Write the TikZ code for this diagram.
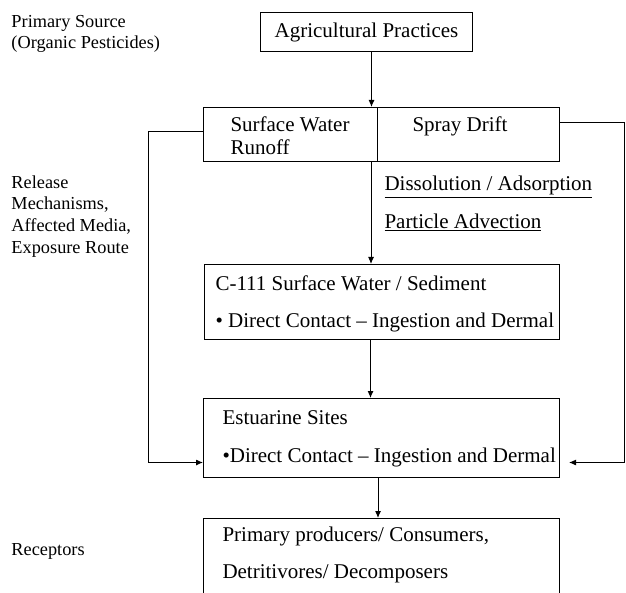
\documentclass[tikz,border=0pt]{standalone}
\usepackage{fontspec}
\setmainfont{Liberation Serif}
\usetikzlibrary{positioning, arrows.meta, calc}

\tikzset{
    box/.style={draw, inner sep=0pt, anchor=north west},
    txt/.style={inner sep=0pt, anchor=base west, align=left},
    side/.style={inner sep=0pt, anchor=base west, align=left, font=\fontsize{18.3}{21.8}\selectfont},
    arr/.style={-{Latex[length=7pt,width=6pt]}},
}

\begin{document}
\begin{tikzpicture}[x=1pt, y=-1pt, line width=1pt, font=\fontsize{21}{23}\selectfont]
    \useasboundingbox (0,0) rectangle (626,593);
    \clip (0,0) rectangle (626,593);

    % left column (anchored at the last baseline)
    \node[side] (src) at (11,49) {Primary Source\\(Organic Pesticides)};
    \node[side] (rel) at (11,253.5) {Release\\Mechanisms,\\Affected Media,\\Exposure Route};
    \node[side] (rec) at (11,555) {Receptors};

    % boxes
    \node[box, minimum width=212, minimum height=39] (agri) at (260,12) {Agricultural Practices};
    \node[box, minimum width=174, minimum height=54] (runoff) at (203,107) {};
    \node[box, minimum width=182, minimum height=54] (drift) at (377,107) {};
    \node[box, minimum width=355, minimum height=75] (c111) at (204,264) {};
    \node[box, minimum width=356, minimum height=79] (est) at (203,398) {};
    \node[box, minimum width=356, minimum height=90] (prod) at (203,518) {};

    % texts
    \node[txt] (runofftxt) at (230,155) {Surface Water\\Runoff};
    \node[txt] (drifttxt) at (412,132) {Spray Drift};
    \node[txt] (diss) at (384,191) {\underline{Dissolution / Adsorption}};
    \node[txt] (adv) at (384,229) {\underline{Particle Advection}};
    \node[txt, font=\fontsize{21}{37}\selectfont] (c111txt) at (215,327)
        {C-111 Surface Water / Sediment\\\textbullet{} Direct Contact -- Ingestion and Dermal};
    \node[txt, font=\fontsize{21}{38}\selectfont] (esttxt) at (222,462)
        {Estuarine Sites\\\textbullet Direct Contact -- Ingestion and Dermal};
    \node[txt, font=\fontsize{21}{37}\selectfont] (prodtxt) at (222,578)
        {Primary producers/ Consumers,\\Detritivores/ Decomposers};

    % connectors
    \draw[arr] ([xshift=5pt]agri.south) -- ([xshift=5pt]agri.south |- runoff.north);
    \draw[arr] ([xshift=-7pt]runoff.south east) -- ([xshift=-7pt]runoff.south east |- c111.north);
    \draw[arr] ([xshift=-11.5pt]c111.south) -- ([xshift=-11.5pt]c111.south |- est.north);
    \draw[arr] ([xshift=-3.5pt]est.south) -- ([xshift=-3.5pt]est.south |- prod.north);
    \draw[arr] ([yshift=3pt]runoff.west) -- ++(-55,0) |- ([yshift=-24.5pt]est.west);
    \draw[arr] ([yshift=12pt]drift.east) -- ++(64,0) |- ([xshift=9pt,yshift=-24.5pt]est.east);
\end{tikzpicture}
\end{document}
